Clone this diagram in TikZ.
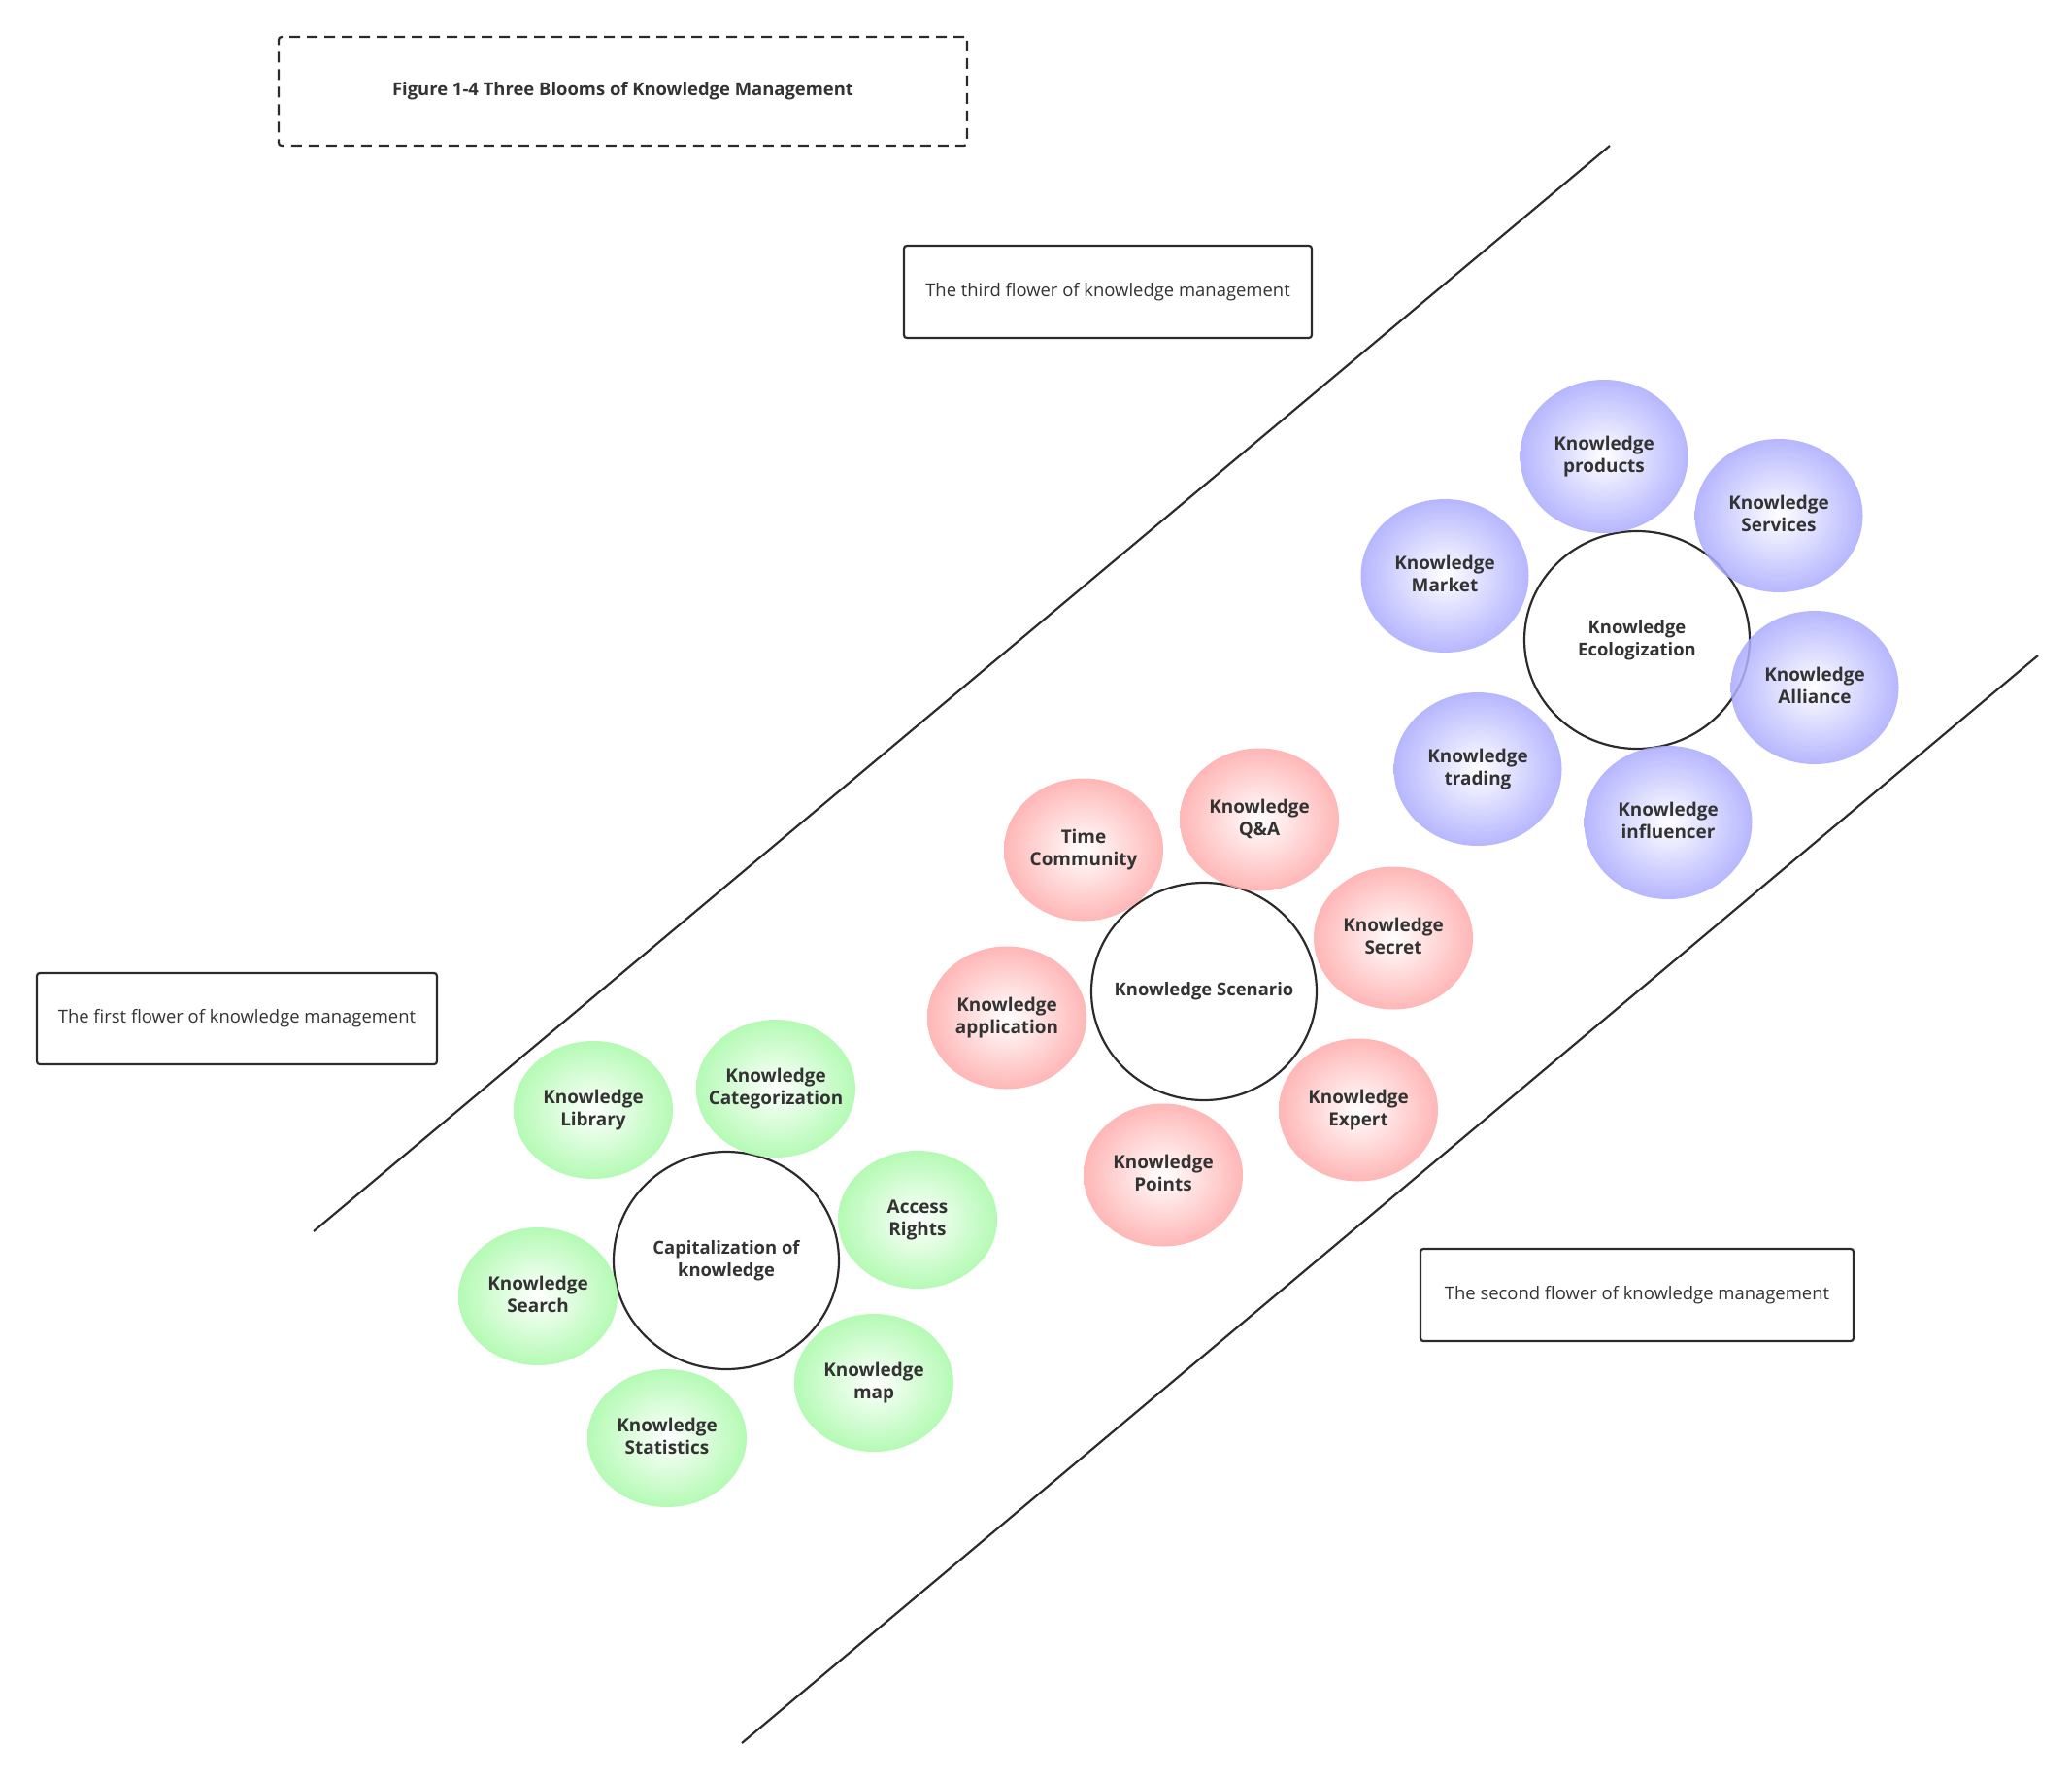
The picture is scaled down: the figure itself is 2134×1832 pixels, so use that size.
\documentclass[tikz,border=0pt]{standalone}
\usepackage{fontspec}
\setmainfont{Open Sans}
\usetikzlibrary{shapes.geometric}

\definecolor{inkgray}{HTML}{2B2B2B}
\definecolor{txtgray}{HTML}{333333}
\definecolor{greenedge}{RGB}{168,250,168}
\definecolor{rededge}{RGB}{255,170,170}
\definecolor{blueedge}{RGB}{170,170,255}

% text that does not widen the ellipse round it
\newcommand\petaltxt[1]{\makebox[0pt]{\begin{tabular}{@{}c@{}}#1\end{tabular}}}

\tikzset{
  hub/.style={ellipse,draw=inkgray,line width=2.2bp,fill=white,inner sep=0pt,
    minimum width=232bp,minimum height=224bp,text=txtgray,
    font=\fontsize{18.5}{23}\selectfont\bfseries},
  petal/.style={ellipse,inner sep=0pt,text=txtgray,
    fill opacity=0.85,text opacity=1,
    font=\fontsize{19}{23}\selectfont\bfseries},
  greenpetal/.style={petal,inner color=white,outer color=greenedge,
    minimum width=164bp,minimum height=142bp},
  redpetal/.style={petal,inner color=white,outer color=rededge,
    minimum width=164bp,minimum height=147bp},
  bluepetal/.style={petal,inner color=white,outer color=blueedge,
    minimum width=173bp,minimum height=158bp},
  note/.style={rectangle,draw=inkgray,line width=2.2bp,rounded corners=3bp,
    fill=white,text=txtgray,font=\fontsize{18.5}{23}\selectfont},
}

\begin{document}
\begin{tikzpicture}[x=1bp,y=-1bp]
  \path[use as bounding box] (0,0) rectangle (2134,1832);
  \fill[white] (0,0) rectangle (2134,1832);

  % the two boundary lines
  \coordinate (upA) at (323,1268);
  \coordinate (upB) at (1658,150);
  \coordinate (lowA) at (764,1795);
  \coordinate (lowB) at (2099,675);
  \draw[inkgray,line width=2.2bp] (upA) -- (upB);
  \draw[inkgray,line width=2.2bp] (lowA) -- (lowB);

  % title and captions
  \node[note,dashed,dash pattern=on 11bp off 7bp,minimum width=709bp,minimum height=112bp,
    font=\fontsize{18.5}{23}\selectfont\bfseries] (title) at (641.5,94)
    {Figure 1-4 Three Blooms of Knowledge Management};
  \node[note,minimum width=420bp,minimum height=95bp] (third) at (1141,300.5)
    {The third flower of knowledge management};
  \node[note,minimum width=412bp,minimum height=94bp] (first) at (244,1049)
    {The first flower of knowledge management};
  \node[note,minimum width=446bp,minimum height=95bp] (second) at (1686,1333.5)
    {The second flower of knowledge management};

  % first flower
  \node[hub] (capital) at (748,1298) {\petaltxt{Capitalization of\\knowledge}};
  \node[greenpetal] (library) at (611,1143) {\petaltxt{Knowledge\\Library}};
  \node[greenpetal] (categ) at (799,1121) {\petaltxt{Knowledge\\Categorization}};
  \node[greenpetal] (access) at (945,1256) {\petaltxt{Access\\Rights}};
  \node[greenpetal] (search) at (554,1335) {\petaltxt{Knowledge\\Search}};
  \node[greenpetal] (kmap) at (900,1424) {\petaltxt{Knowledge\\map}};
  \node[greenpetal] (stats) at (687,1481) {\petaltxt{Knowledge\\Statistics}};

  % second flower
  \node[hub] (scenario) at (1240,1021) {\petaltxt{Knowledge Scenario}};
  \node[redpetal] (timecom) at (1116,875) {\petaltxt{Time\\Community}};
  \node[redpetal] (qanda) at (1297,844) {\petaltxt{Knowledge\\Q\&A}};
  \node[redpetal] (secret) at (1435,966) {\petaltxt{Knowledge\\Secret}};
  \node[redpetal] (applic) at (1037,1048) {\petaltxt{Knowledge\\application}};
  \node[redpetal] (expert) at (1399,1143) {\petaltxt{Knowledge\\Expert}};
  \node[redpetal] (points) at (1198,1210) {\petaltxt{Knowledge\\Points}};

  % third flower
  \node[hub] (ecolog) at (1686,659) {\petaltxt{Knowledge\\Ecologization}};
  \node[bluepetal] (products) at (1652,470) {\petaltxt{Knowledge\\products}};
  \node[bluepetal] (services) at (1832,531) {\petaltxt{Knowledge\\Services}};
  \node[bluepetal] (market) at (1488,593) {\petaltxt{Knowledge\\Market}};
  \node[bluepetal] (alliance) at (1869,708) {\petaltxt{Knowledge\\Alliance}};
  \node[bluepetal] (trading) at (1522,792) {\petaltxt{Knowledge\\trading}};
  \node[bluepetal] (influ) at (1718,847) {\petaltxt{Knowledge\\influencer}};
\end{tikzpicture}
\end{document}
